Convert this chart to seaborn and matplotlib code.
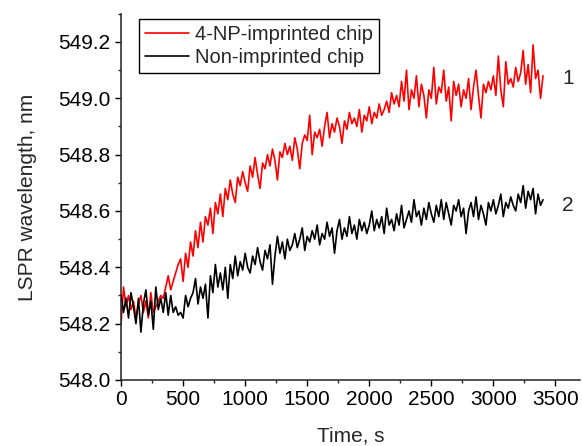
import matplotlib.pyplot as plt
import matplotlib.ticker as ticker
import numpy as np
import pandas as pd
import seaborn as sns

# time axis, one reading every 20 s
time_s = np.arange(0, 3401, 20)

imprinted = [
    548.20, 548.33, 548.26, 548.30, 548.25, 548.28, 548.22, 548.27, 548.30, 548.24,
    548.28, 548.22, 548.31, 548.24, 548.26, 548.28, 548.30, 548.29, 548.33, 548.37,
    548.32, 548.35, 548.38, 548.41, 548.43, 548.35, 548.45, 548.40, 548.49, 548.44,
    548.53, 548.47, 548.56, 548.49, 548.58, 548.55, 548.61, 548.52, 548.63, 548.59,
    548.66, 548.58, 548.68, 548.64, 548.71, 548.66, 548.63, 548.72, 548.69, 548.74,
    548.70, 548.67, 548.76, 548.72, 548.79, 548.73, 548.68, 548.77, 548.75, 548.80,
    548.76, 548.82, 548.78, 548.71, 548.81, 548.79, 548.84, 548.80, 548.83, 548.78,
    548.86, 548.82, 548.75, 548.84, 548.87, 548.85, 548.94, 548.80, 548.88, 548.86,
    548.89, 548.83, 548.90, 548.95, 548.86, 548.91, 548.88, 548.93, 548.90, 548.84,
    548.92, 548.89, 548.95, 548.91, 548.93, 548.90, 548.96, 548.88, 548.94, 548.92,
    548.97, 548.91, 548.95, 548.93, 548.98, 548.94, 548.96, 548.99, 548.95, 549.02,
    548.98, 549.01, 548.97, 549.06, 548.99, 549.10, 548.96, 549.03, 549.00, 549.08,
    548.97, 549.05, 549.01, 548.93, 549.03, 549.00, 549.11, 548.98, 549.04, 549.02,
    549.10, 548.99, 549.04, 548.92, 549.06, 549.01, 549.05, 548.97, 549.03, 549.00,
    549.07, 548.96, 549.04, 549.10, 549.01, 548.93, 549.05, 549.02, 549.06, 549.03,
    549.08, 549.01, 549.15, 549.03, 548.97, 549.13, 549.05, 549.07, 549.04, 549.11,
    549.06, 549.09, 549.17, 549.05, 549.12, 549.02, 549.19, 549.07, 549.10, 549.00,
    549.08,
]

non_imprinted = [
    548.30, 548.24, 548.29, 548.22, 548.31, 548.26, 548.20, 548.29, 548.17, 548.27,
    548.32, 548.23, 548.28, 548.18, 548.33, 548.25, 548.29, 548.24, 548.31, 548.23,
    548.30, 548.24, 548.26, 548.23, 548.24, 548.22, 548.30, 548.26, 548.29, 548.31,
    548.36, 548.27, 548.33, 548.29, 548.34, 548.22, 548.37, 548.31, 548.41, 548.33,
    548.38, 548.32, 548.40, 548.29, 548.41, 548.36, 548.44, 548.37, 548.42, 548.39,
    548.45, 548.40, 548.38, 548.44, 548.41, 548.47, 548.42, 548.39, 548.46, 548.43,
    548.48, 548.34, 548.44, 548.51, 548.45, 548.49, 548.43, 548.50, 548.46, 548.48,
    548.52, 548.47, 548.50, 548.54, 548.46, 548.51, 548.49, 548.53, 548.50, 548.55,
    548.48, 548.52, 548.50, 548.56, 548.51, 548.54, 548.45, 548.53, 548.57, 548.50,
    548.54, 548.51, 548.58, 548.52, 548.55, 548.50, 548.57, 548.53, 548.56, 548.52,
    548.55, 548.60, 548.53, 548.57, 548.54, 548.58, 548.52, 548.61, 548.55, 548.57,
    548.53, 548.59, 548.55, 548.62, 548.54, 548.57, 548.60, 548.56, 548.64, 548.58,
    548.60, 548.55, 548.61, 548.57, 548.63, 548.59, 548.56, 548.62, 548.58, 548.64,
    548.57, 548.63, 548.59, 548.55, 548.62, 548.60, 548.64, 548.58, 548.61, 548.52,
    548.60, 548.63, 548.58, 548.65, 548.57, 548.62, 548.59, 548.55, 548.63, 548.60,
    548.64, 548.59, 548.62, 548.66, 548.58, 548.63, 548.61, 548.65, 548.62, 548.60,
    548.66, 548.63, 548.69, 548.61, 548.67, 548.64, 548.68, 548.59, 548.66, 548.62,
    548.64,
]

series_labels = ['4-NP-imprinted chip', 'Non-imprinted chip']
curve_tags = ['1', '2']

sns.set_style('ticks')
plt.rcParams['font.family'] = ['Liberation Sans', 'DejaVu Sans']

fig = plt.figure(figsize=(5.82, 4.46), dpi=100)
ax = fig.add_axes([0.208, 0.148, 0.789, 0.821])

df = pd.DataFrame({'t': time_s, 'a': imprinted, 'b': non_imprinted})
sns.lineplot(data=df, x='t', y='a', ax=ax, color='#ff0000', linewidth=1.2, label=series_labels[0])
sns.lineplot(data=df, x='t', y='b', ax=ax, color='#000000', linewidth=1.2, label=series_labels[1])

ax.set_xlim(0, 3700)
ax.set_ylim(548.0, 549.3)
ax.xaxis.set_major_locator(ticker.MultipleLocator(500))
ax.xaxis.set_minor_locator(ticker.MultipleLocator(250))
ax.yaxis.set_major_locator(ticker.MultipleLocator(0.2))
ax.yaxis.set_minor_locator(ticker.MultipleLocator(0.1))
ax.yaxis.set_major_formatter(ticker.StrMethodFormatter('{x:.1f}'))

ax.tick_params(which='major', direction='out', length=4, width=1, labelsize=15, colors='#000')
ax.tick_params(which='minor', direction='out', length=2.5, width=1)
for s in ['top', 'right']:
    ax.spines[s].set_visible(False)
for s in ['left', 'bottom']:
    ax.spines[s].set_linewidth(1.1)
    ax.spines[s].set_color('#222')

ax.set_xlabel('Time, s', fontsize=15, labelpad=12)
ax.set_ylabel('LSPR wavelength, nm', fontsize=15, labelpad=15)

# curve numbers on the right
ax.text(3600, 549.07, curve_tags[0], fontsize=15, ha='center', va='center')
ax.text(3600, 548.62, curve_tags[1], fontsize=15, ha='center', va='center')

leg = ax.legend(loc='upper left', bbox_to_anchor=(0.039, 0.986), borderaxespad=0,
                fontsize=14.5, fancybox=False, framealpha=1, edgecolor='#000',
                handlelength=2.2, labelspacing=0.22, borderpad=0.3, handletextpad=0.3)
leg.get_frame().set_linewidth(1)

fig.savefig('out.png', dpi=100)
